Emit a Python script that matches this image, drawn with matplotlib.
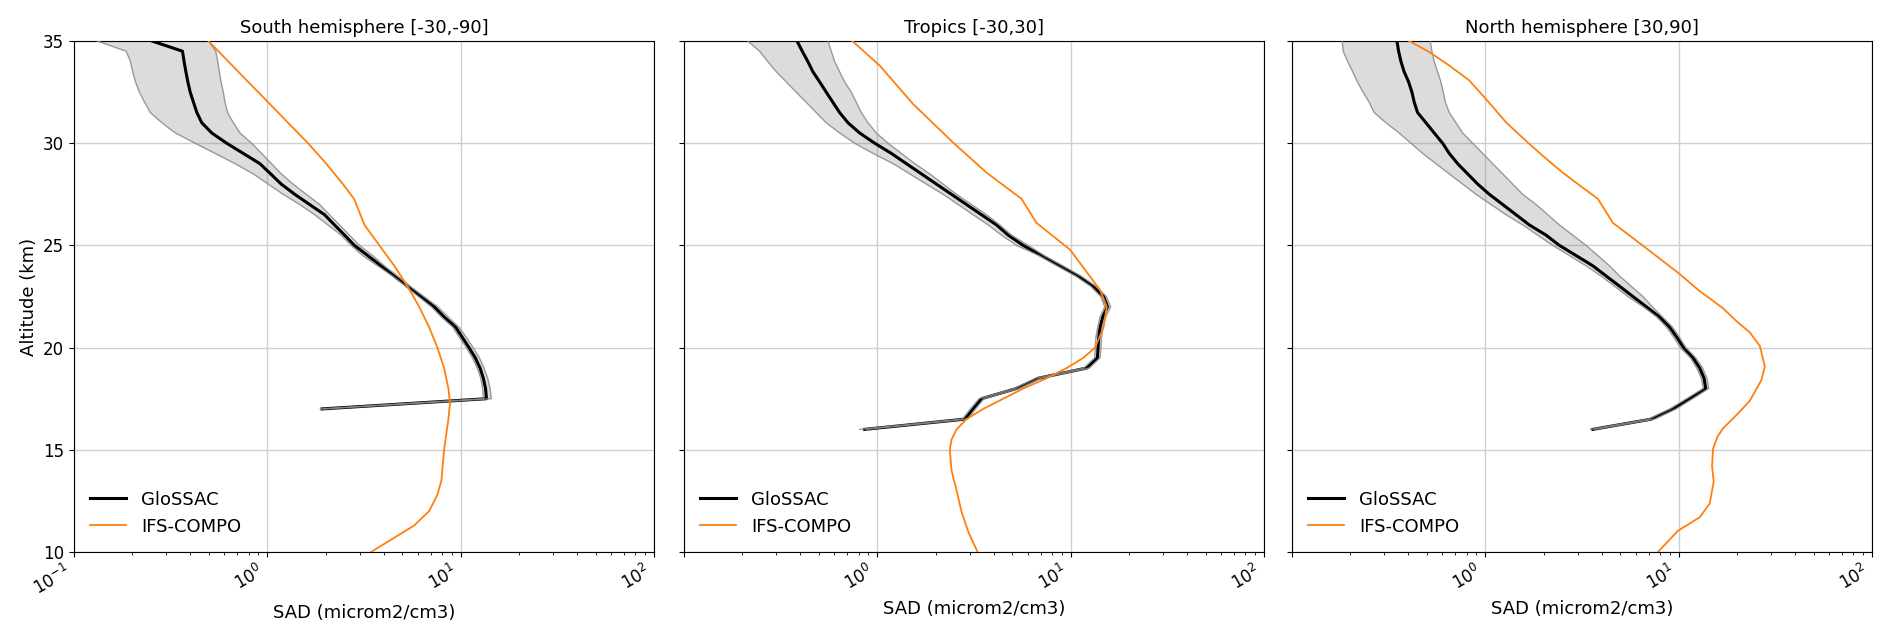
import numpy as np
import matplotlib
matplotlib.use("Agg")
import matplotlib.pyplot as plt

# ---------------- data ----------------
titles = ["South hemisphere [-30,-90]", "Tropics [-30,30]", "North hemisphere [30,90]"]

alt_south = [35, 34.5, 34, 33.5, 33, 32.5, 32, 31.5, 31, 30.5, 30, 29.5, 29, 28.5, 28, 27.5, 27,
             26.5, 26, 25.5, 25, 24.5, 24, 23.5, 23, 22.5, 22, 21.5, 21, 20.5, 20, 19.5, 19,
             18.5, 18, 17.5, 17]
glo_south_mean = [0.253, 0.364, 0.371, 0.379, 0.388, 0.399, 0.415, 0.432, 0.458, 0.516, 0.616,
                  0.751, 0.915, 1.04, 1.18, 1.386, 1.655, 1.978, 2.226, 2.51, 2.82, 3.31, 3.87,
                  4.54, 5.31, 6.22, 7.29, 8.21, 9.42, 10.2, 11.04, 11.9, 12.6, 13.1, 13.45, 13.6,
                  1.92]
glo_south_lo = [0.132, 0.186, 0.196, 0.201, 0.208, 0.218, 0.232, 0.248, 0.285, 0.334, 0.423,
                0.537, 0.680, 0.845, 1.01, 1.206, 1.471, 1.757, 2.058, 2.41, 2.713, 3.116, 3.72,
                4.45, 5.21, 6.05, 7.05, 7.95, 9.1, 9.85, 10.7, 11.5, 12.2, 12.7, 13.0, 13.1, 1.88]
glo_south_hi = [0.496, 0.541, 0.554, 0.565, 0.576, 0.592, 0.604, 0.623, 0.667, 0.722, 0.829,
                0.933, 1.05, 1.18, 1.358, 1.591, 1.864, 2.098, 2.362, 2.66, 2.995, 3.51, 4.03,
                4.72, 5.48, 6.45, 7.6, 8.6, 9.8, 10.7, 11.6, 12.5, 13.2, 13.8, 14.2, 14.4, 1.96]

alt_trop = [35, 34.5, 34, 33.5, 33, 32.5, 32, 31.5, 31, 30.5, 30, 29.5, 29, 28.5, 28, 27.5, 27,
            26.5, 26, 25.5, 25, 24.5, 24, 23.5, 23, 22.5, 22, 21.5, 21, 20.5, 20, 19.5, 19,
            18.5, 18, 17.5, 17, 16.5, 16]
glo_trop_mean = [0.384, 0.409, 0.437, 0.464, 0.503, 0.544, 0.589, 0.638, 0.705, 0.810, 0.969,
                 1.182, 1.413, 1.690, 2.021, 2.417, 2.891, 3.458, 4.136, 4.754, 5.68, 7.07, 8.81,
                 10.96, 13.1, 14.8, 15.5, 14.65, 14.2, 13.97, 13.86, 13.75, 12.1, 6.80, 5.25,
                 3.46, 3.13, 2.84, 0.86]
glo_trop_lo = [0.214, 0.246, 0.271, 0.300, 0.338, 0.380, 0.429, 0.483, 0.544, 0.638, 0.763,
               0.950, 1.206, 1.471, 1.794, 2.189, 2.618, 3.131, 3.745, 4.39, 5.25, 6.85, 8.5,
               10.6, 12.7, 14.3, 15.0, 14.2, 13.8, 13.5, 13.4, 13.3, 11.7, 6.6, 5.1, 3.36, 3.03,
               2.75, 0.81]
glo_trop_hi = [0.555, 0.578, 0.601, 0.638, 0.677, 0.733, 0.778, 0.826, 0.895, 0.988, 1.136,
               1.332, 1.561, 1.867, 2.189, 2.566, 3.069, 3.671, 4.303, 4.95, 6.035, 7.3, 9.1,
               11.3, 13.5, 15.3, 16.1, 15.2, 14.7, 14.45, 14.35, 14.2, 12.5, 7.0, 5.4, 3.56, 3.22,
               2.93, 0.88]

alt_north = [35, 34.5, 34, 33.5, 33, 32.5, 32, 31.5, 31, 30.5, 30, 29.5, 29, 28.5, 28, 27.5, 27,
             26.5, 26, 25.5, 25, 24.5, 24, 23.5, 23, 22.5, 22, 21.5, 21, 20.5, 20, 19.5, 19,
             18.5, 18, 17.5, 17, 16.5, 16]
glo_north_mean = [0.349, 0.356, 0.366, 0.380, 0.401, 0.417, 0.429, 0.446, 0.493, 0.544, 0.601,
                  0.651, 0.719, 0.810, 0.913, 1.049, 1.230, 1.442, 1.690, 2.062, 2.417, 2.95,
                  3.60, 4.22, 4.95, 5.80, 6.80, 7.97, 8.98, 9.8, 10.6, 11.87, 12.85, 13.53, 13.80,
                  11.40, 9.35, 7.22, 3.60]
glo_north_lo = [0.182, 0.184, 0.194, 0.206, 0.218, 0.233, 0.251, 0.266, 0.306, 0.358, 0.412,
                0.474, 0.555, 0.651, 0.763, 0.895, 1.070, 1.280, 1.561, 1.867, 2.233, 2.724,
                3.32, 3.975, 4.66, 5.46, 6.55, 7.7, 8.65, 9.45, 10.2, 11.5, 12.4, 13.1, 13.4,
                11.0, 9.0, 6.95, 3.5]
glo_north_hi = [0.519, 0.529, 0.544, 0.566, 0.589, 0.606, 0.621, 0.651, 0.705, 0.763, 0.860,
                0.969, 1.091, 1.230, 1.385, 1.561, 1.830, 2.104, 2.417, 2.835, 3.32, 3.82, 4.39,
                4.95, 5.68, 6.53, 7.3, 8.25, 9.3, 10.1, 10.9, 12.25, 13.3, 14.0, 14.3, 11.8, 9.7,
                7.5, 3.7]

ifs_south_alt = [35, 34, 33, 32, 31, 30, 29, 28, 27.25, 26, 25, 24, 23, 22, 21, 20, 19, 18, 17.3,
                 16.5, 15, 13.5, 12.8, 12, 11.3, 10.7, 10]
ifs_south = [0.496, 0.628, 0.796, 1.01, 1.28, 1.623, 2.017, 2.459, 2.82, 3.18, 3.80, 4.54, 5.31,
             6.10, 6.87, 7.58, 8.21, 8.64, 8.81, 8.64, 8.21, 7.95, 7.58, 6.87, 5.75, 4.54, 3.44]

ifs_trop_alt = [35, 33.8, 31.92, 30.03, 28.56, 27.28, 26.1, 24.79, 22.82, 22, 21, 20, 19.5, 19,
                18.5, 18, 17.5, 17, 16.5, 16, 15.5, 15, 14, 13.5, 13.3, 12, 11, 10]
ifs_trop = [0.742, 1.028, 1.53, 2.466, 3.671, 5.57, 6.66, 9.92, 14.19, 15.37, 14.8, 13.37, 11.63,
            9.54, 7.51, 5.69, 4.48, 3.53, 2.89, 2.57, 2.42, 2.37, 2.42, 2.49, 2.53, 2.72, 2.95,
            3.30]

ifs_north_alt = [35, 34.46, 33.8, 33.07, 32.16, 31.02, 30.11, 29.38, 28.56, 27.82, 27.28, 26.1,
                 25.11, 23.64, 22.76, 22.41, 21.92, 21.24, 20.75, 20.08, 19.08, 18.41, 17.39,
                 16.7, 16.05, 15.64, 15.05, 14.2, 13.45, 12.37, 11.7, 11.04, 10.0]
ifs_north = [0.404, 0.513, 0.651, 0.826, 1.008, 1.280, 1.624, 1.982, 2.515, 3.194, 3.82, 4.57,
             6.28, 10.0, 12.85, 14.47, 16.97, 20.2, 23.3, 26.3, 27.9, 26.8, 23.3, 19.9, 16.97,
             15.86, 15.06, 14.88, 15.18, 14.47, 12.85, 9.92, 7.81]

panels = [
    (alt_south, glo_south_mean, glo_south_lo, glo_south_hi, ifs_south_alt, ifs_south),
    (alt_trop, glo_trop_mean, glo_trop_lo, glo_trop_hi, ifs_trop_alt, ifs_trop),
    (alt_north, glo_north_mean, glo_north_lo, glo_north_hi, ifs_north_alt, ifs_north),
]

# ---------------- figure ----------------
W, H = 1892, 634
fig = plt.figure(figsize=(W / 100, H / 100), dpi=100)
lefts = [74, 684, 1292]
aw, ab, ah = 580, 552, 511

axes = []
for i, (alt, mean, lo, hi, ialt, ival) in enumerate(panels):
    ax = fig.add_axes([lefts[i] / W, 1 - ab / H, aw / W, ah / H],
                      sharey=axes[0] if axes else None)
    axes.append(ax)
    ax.set_xscale("log")
    ax.fill_betweenx(alt, lo, hi, facecolor="#808080", alpha=0.27, edgecolor="none", zorder=2)
    ax.plot(mean, alt, color="black", lw=2.2, zorder=3, label="GloSSAC")
    ax.plot(lo, alt, color="#8a8a8a", lw=1.0, alpha=0.85, zorder=4)
    ax.plot(hi, alt, color="#8a8a8a", lw=1.0, alpha=0.85, zorder=4)
    ax.plot(ival, ialt, color="#ff7f0e", lw=1.3, zorder=5, label="IFS-COMPO")
    ax.set_xlim(0.1, 100)
    ax.set_ylim(10, 35)
    ax.set_yticks([10, 15, 20, 25, 30, 35])
    ax.grid(True, which="major", color="#cfcfcf", lw=1.0, zorder=0)
    ax.set_axisbelow(True)
    ax.set_title(titles[i], fontsize=13)
    ax.set_xlabel("SAD (microm2/cm3)", fontsize=13)
    ax.tick_params(axis="both", which="major", labelsize=12)
    for lab in ax.get_xticklabels():
        lab.set_rotation(30)
        lab.set_ha("right")
    ax.legend(loc="lower left", frameon=False, fontsize=13, handlelength=2.0)
    if i > 0:
        ax.tick_params(axis="y", labelleft=False)

axes[0].set_ylabel("Altitude (km)", fontsize=13)

# hide 10^-1 label on panels 2 and 3 (covered in the original)
fig.canvas.draw()
for ax in axes[1:]:
    for lab in ax.get_xticklabels():
        if abs(lab.get_position()[0] - 0.1) < 1e-9:
            lab.set_visible(False)

fig.savefig("out.png", dpi=100)
